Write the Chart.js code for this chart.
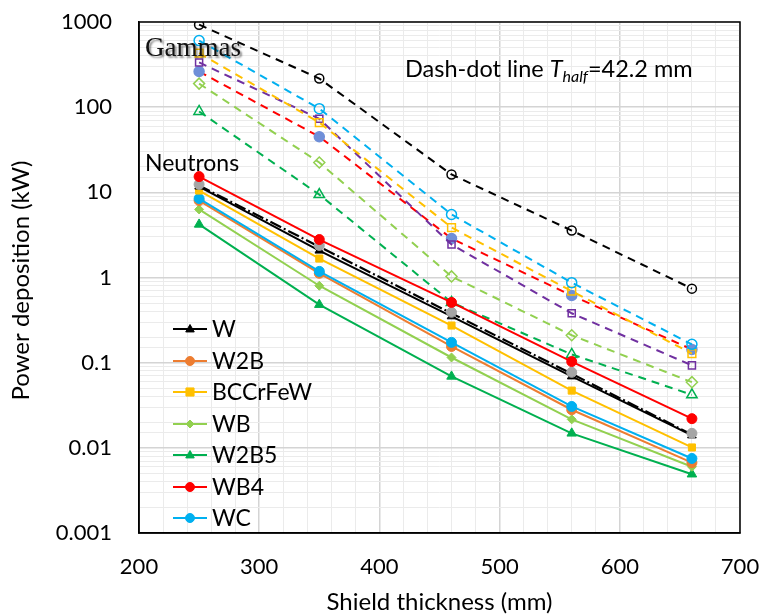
<!DOCTYPE html>
<html>
<head>
<meta charset="utf-8">
<script src="https://cdn.jsdelivr.net/npm/chart.js@4.4.1/dist/chart.umd.min.js"></script>
<style>
html,body{margin:0;padding:0;background:#fff;}
#wrap{position:relative;width:763px;height:614px;}
</style>
</head>
<body>
<div id="wrap"><canvas id="c" width="763" height="614"></canvas></div>
<script>
// ---- data ----
const thickness = [250, 350, 460, 560, 660];
const xTicks = [200, 300, 400, 500, 600, 700];
const yTicks = [0.001, 0.01, 0.1, 1, 10, 100, 1000];

// Neutrons (solid lines, filled markers)
const nW        = [11.7, 2.07, 0.35, 0.069, 0.014];
const nWgrey    = [12.4, 2.38, 0.39, 0.077, 0.0148];
const nW2B      = [8.0, 1.12, 0.155, 0.028, 0.0067];
const nBCCrFeW  = [10.5, 1.67, 0.273, 0.047, 0.0101];
const nWB       = [6.3, 0.80, 0.115, 0.0216, 0.0060];
const nW2B5     = [4.2, 0.48, 0.069, 0.0148, 0.0049];
const nWB4      = [15.3, 2.79, 0.51, 0.103, 0.022];
const nWC       = [8.45, 1.18, 0.173, 0.0306, 0.0075];
const nFitDashDot = [12.0, 2.3, 0.38, 0.074, 0.0143];

// Gammas (dashed lines, open markers)
const gW        = [930, 217, 16.2, 3.56, 0.74];
const gWC       = [605, 96, 5.5, 0.87, 0.164];
const gBCCrFeW  = [430, 66, 3.86, 0.69, 0.128];
const gW2B      = [335, 73, 2.44, 0.38, 0.093];
const gWB4      = [262, 45, 2.87, 0.615, 0.143];
const gWB       = [189, 22.4, 1.03, 0.21, 0.059];
const gW2B5     = [89, 9.4, 0.51, 0.125, 0.042];

const legendNames = ['W', 'W2B', 'BCCrFeW', 'WB', 'W2B5', 'WB4', 'WC'];

// ---- build datasets ----
const pts = arr => arr.map((v, i) => ({x: thickness[i], y: v}));
function neutron(label, data, color, style, r, extra) {
  return Object.assign({
    label, data: pts(data), borderColor: color, backgroundColor: color,
    borderWidth: 2, pointStyle: style, pointRadius: r, pointBorderColor: color,
    pointBackgroundColor: color, pointBorderWidth: 1, showLine: true, fill: false, tension: 0
  }, extra || {});
}
function gamma(label, data, color, style, r, markerColor, filled) {
  const mc = markerColor || color;
  return {
    label, data: pts(data), borderColor: color, backgroundColor: color,
    borderWidth: 2, borderDash: [8, 6], pointStyle: style, pointRadius: r,
    pointBorderColor: mc, pointBackgroundColor: filled ? mc : 'rgba(0,0,0,0)',
    pointBorderWidth: 1.5, showLine: true, fill: false, tension: 0, legendHide: true
  };
}

const datasets = [
  neutron('WB4', nWB4, '#ff0000', 'circle', 5),
  neutron('Wref', nWgrey, '#a5a5a5', 'circle', 5, {showLine: false, legendHide: true}),
  neutron('W', nW, '#000000', 'triangle', 5),
  neutron('W dash-dot', nFitDashDot, '#000000', 'circle', 0, {borderDash: [12, 3, 2, 3], borderWidth: 2.2, legendHide: true}),
  neutron('BCCrFeW', nBCCrFeW, '#ffc000', 'rect', 5),
  neutron('WC', nWC, '#00b0f0', 'circle', 5),
  neutron('W2B', nW2B, '#ed7d31', 'circle', 5),
  neutron('WB', nWB, '#92d050', 'rectRot', 4.5),
  neutron('W2B5', nW2B5, '#00b050', 'triangle', 5.5),
  gamma('gW', gW, '#000000', 'circle', 4.5),
  gamma('gWC', gWC, '#00b0f0', 'circle', 5),
  gamma('gBCCrFeW', gBCCrFeW, '#ffc000', 'rect', 5.5),
  gamma('gW2B', gW2B, '#7030a0', 'rect', 5),
  gamma('gWB4', gWB4, '#ff0000', 'circle', 5, '#6f8fd8', true),
  gamma('gWB', gWB, '#92d050', 'rectRot', 5.5),
  gamma('gW2B5', gW2B5, '#00b050', 'triangle', 6)
];

const FONT = 'Lato, "Open Sans", sans-serif';
const isDecade = v => { const l = Math.log10(v); return Math.abs(l - Math.round(l)) < 1e-6; };

function drawMarker(ctx, style, x, y, r, fill, stroke) {
  ctx.beginPath();
  if (style === 'circle') ctx.arc(x, y, r, 0, Math.PI * 2);
  else if (style === 'rect') ctx.rect(x - r * 0.9, y - r * 0.9, r * 1.8, r * 1.8);
  else if (style === 'rectRot') { ctx.moveTo(x, y - r); ctx.lineTo(x + r, y); ctx.lineTo(x, y + r); ctx.lineTo(x - r, y); ctx.closePath(); }
  else if (style === 'triangle') { ctx.moveTo(x, y - r); ctx.lineTo(x + r * 0.95, y + r * 0.65); ctx.lineTo(x - r * 0.95, y + r * 0.65); ctx.closePath(); }
  ctx.fillStyle = fill; ctx.fill();
  ctx.strokeStyle = stroke; ctx.lineWidth = 1; ctx.stroke();
}

const deco = {
  id: 'deco',
  beforeDatasetsDraw(chart) {
    const ctx = chart.ctx, a = chart.chartArea;
    ctx.save();
    ctx.strokeStyle = '#000'; ctx.lineWidth = 1.5;
    ctx.strokeRect(a.left, a.top, a.right - a.left, a.bottom - a.top);
    ctx.restore();
  },
  afterDraw(chart) {
    const ctx = chart.ctx, a = chart.chartArea;
    ctx.save();
    // axis titles
    ctx.fillStyle = '#000';
    ctx.font = '24px ' + FONT;
    ctx.textAlign = 'center'; ctx.textBaseline = 'middle';
    ctx.fillText('Shield thickness (mm)', (a.left + a.right) / 2, 602);
    ctx.save();
    ctx.translate(21, (a.top + a.bottom) / 2 + 3);
    ctx.rotate(-Math.PI / 2);
    ctx.fillText('Power deposition (kW)', 0, 0);
    ctx.restore();

    // Gammas (serif with shadow)
    ctx.textAlign = 'left'; ctx.textBaseline = 'alphabetic';
    ctx.save();
    ctx.font = '27px "Liberation Serif", "DejaVu Serif", serif';
    ctx.shadowColor = 'rgba(0,0,0,0.45)'; ctx.shadowOffsetX = 2; ctx.shadowOffsetY = 2; ctx.shadowBlur = 2;
    ctx.fillStyle = '#111';
    ctx.fillText('Gammas', 145, 56);
    ctx.restore();

    ctx.font = '23px ' + FONT;
    ctx.fillText('Neutrons', 145, 171);

    // Dash-dot annotation
    let x = 405; const by = 77;
    ctx.font = '23.5px ' + FONT;
    ctx.fillText('Dash-dot line ', x, by); x += ctx.measureText('Dash-dot line ').width;
    ctx.font = 'italic 23.5px ' + FONT;
    ctx.fillText('T', x, by); x += ctx.measureText('T').width;
    ctx.font = 'italic 16px ' + FONT;
    ctx.fillText('half', x, by + 5); x += ctx.measureText('half').width;
    ctx.font = '23.5px ' + FONT;
    ctx.fillText('=42.2 mm', x, by);

    // legend inside plot
    const rowY = [329, 361, 392, 424, 455, 487, 518];
    legendNames.forEach((name, i) => {
      const ds = chart.data.datasets.find(d => d.label === name);
      const y = rowY[i];
      ctx.strokeStyle = ds.borderColor; ctx.lineWidth = 2; ctx.setLineDash([]);
      ctx.beginPath(); ctx.moveTo(173, y); ctx.lineTo(207, y); ctx.stroke();
      drawMarker(ctx, ds.pointStyle, 190, y, ds.pointStyle === 'rectRot' ? 4 : 4.5, ds.pointBackgroundColor, ds.pointBorderColor);
      ctx.fillStyle = '#000'; ctx.font = '23px ' + FONT;
      ctx.textBaseline = 'middle';
      ctx.fillText(name, 212, y + 1);
    });
    ctx.restore();
  }
};

new Chart(document.getElementById('c'), {
  type: 'scatter',
  data: { datasets },
  options: {
    responsive: false, animation: false, devicePixelRatio: 1,
    layout: { padding: { top: 22, right: 23, left: 0, bottom: 0 } },
    plugins: { legend: { display: false }, tooltip: { enabled: false }, title: { display: false } },
    scales: {
      x: {
        type: 'linear', min: xTicks[0], max: xTicks[xTicks.length - 1],
        afterFit(s) { s.height = 81; s.paddingLeft = 0; s.paddingRight = 0; },
        ticks: {
          stepSize: 20, autoSkip: false, maxRotation: 0, padding: 21, color: '#000',
          font: { family: FONT, size: 22 },
          callback: v => xTicks.includes(v) ? String(v) : ''
        },
        grid: { drawTicks: false, color: c => (c.tick && xTicks.includes(c.tick.value)) ? '#d4d4d4' : '#ebebeb', lineWidth: c => (c.tick && xTicks.includes(c.tick.value)) ? 1.5 : 1 },
        border: { display: true, color: '#000', width: 1.5 }
      },
      y: {
        type: 'logarithmic', min: yTicks[0], max: yTicks[yTicks.length - 1],
        afterFit(s) { s.width = 139; s.paddingTop = 0; s.paddingBottom = 0; },
        ticks: {
          autoSkip: false, padding: 27, color: '#000',
          font: { family: FONT, size: 22 },
          callback: v => isDecade(v) ? String(yTicks.find(t => Math.abs(Math.log10(t) - Math.log10(v)) < 1e-6)) : ''
        },
        grid: { drawTicks: false, color: c => (c.tick && isDecade(c.tick.value)) ? '#d4d4d4' : '#ebebeb', lineWidth: c => (c.tick && isDecade(c.tick.value)) ? 1.5 : 1 },
        border: { display: true, color: '#000', width: 1.5 }
      }
    }
  },
  plugins: [deco]
});
</script>
</body>
</html>
